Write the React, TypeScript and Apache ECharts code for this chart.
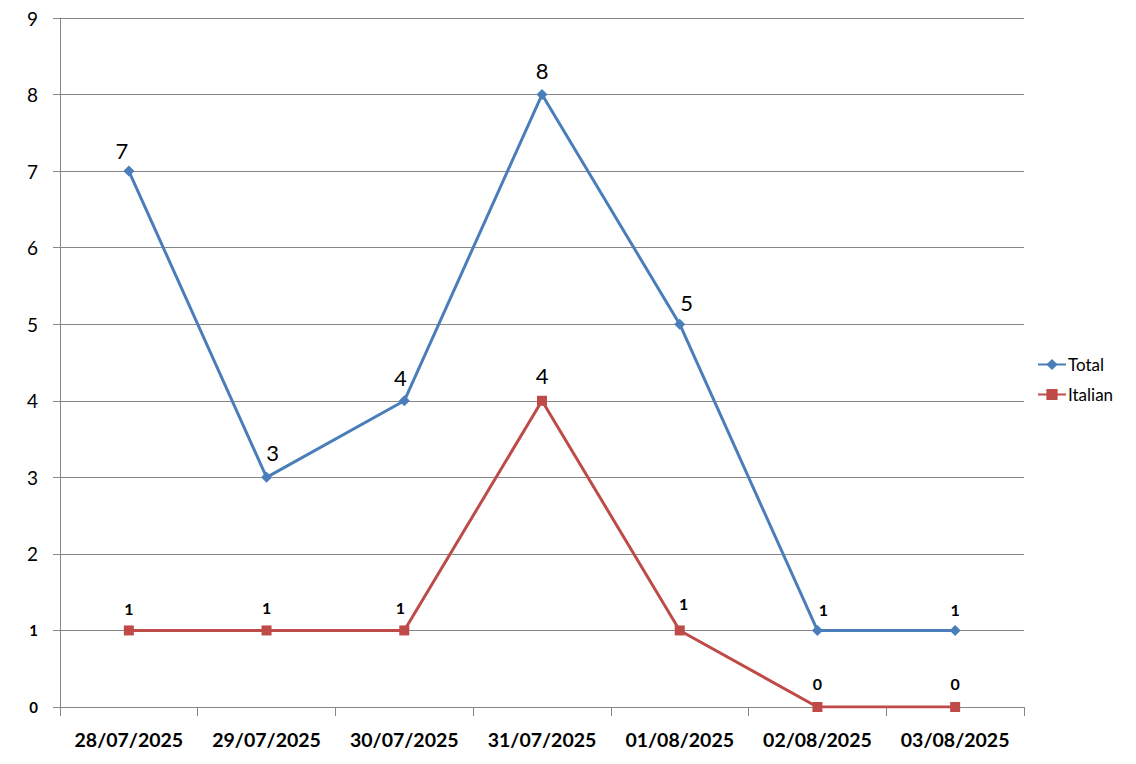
import React, { useEffect, useRef } from "react";
import * as echarts from "echarts";

const categories = ["28/07/2025", "29/07/2025", "30/07/2025", "31/07/2025", "01/08/2025", "02/08/2025", "03/08/2025"];
const totalValues = [7, 3, 4, 8, 5, 1, 1];
const italianValues = [1, 1, 1, 4, 1, 0, 0];
const yTicks = [0, 1, 2, 3, 4, 5, 6, 7, 8, 9];

// label nudges (styling only)
const totalLabelDx = [-7, 6, -4, 0, 7, 6, 0];
const italianLabelDx = [0, 0, -4, 0, 4, 0, 0];
const totalLabelDy = [-21, -25, -23, -24, -22, -21, -21];
const italianLabelDy = [-22, -23, -23, -25, -27, -24, -24];

const FONT = "Lato, 'Open Sans', sans-serif";

function labelRich(v: number) {
  return v <= 1 ? "{s|" + v + "}" : "{b|" + v + "}";
}

const richStyles = {
  s: { fontFamily: FONT, fontSize: 16, fontWeight: "bold", color: "#000" },
  b: { fontFamily: FONT, fontSize: 22, fontWeight: "normal", color: "#000" },
};

function buildData(values: number[], dx: number[], dy: number[]) {
  return values.map((v, i) => ({
    value: v,
    label: {
      show: true,
      position: "inside",
      offset: [dx[i], dy[i]],
      formatter: () => labelRich(v),
      rich: richStyles,
    },
  }));
}

export default function App() {
  const ref = useRef<HTMLDivElement>(null);
  useEffect(() => {
    if (!ref.current) return;
    const chart = echarts.init(ref.current, undefined, { renderer: "svg" });
    chart.setOption({
      animation: false,
      backgroundColor: "#ffffff",
      grid: { left: 60, right: 112, top: 18, bottom: 57, containLabel: false },
      legend: {
        orient: "vertical",
        left: 1032,
        top: 351,
        itemWidth: 28,
        itemHeight: 14,
        itemGap: 13,
        textStyle: { fontFamily: FONT, fontSize: 17, color: "#000", padding: [0, 0, 0, -3] },
        data: ["Total", "Italian"],
      },
      xAxis: {
        type: "category",
        data: categories,
        boundaryGap: true,
        axisLine: { show: true, lineStyle: { color: "#868686", width: 1 } },
        axisTick: { show: true, length: 9, alignWithLabel: false, lineStyle: { color: "#868686" } },
        axisLabel: {
          margin: 22,
          fontFamily: FONT,
          fontSize: 19.5,
          fontWeight: "bold",
          color: "#000",
          interval: 0,
        },
        splitLine: { show: false },
      },
      yAxis: {
        type: "value",
        min: yTicks[0],
        max: yTicks[yTicks.length - 1],
        interval: 1,
        axisLine: { show: true, lineStyle: { color: "#868686", width: 1 } },
        axisTick: { show: true, length: 7, lineStyle: { color: "#868686" } },
        axisLabel: {
          margin: 22,
          formatter: (v: number) => labelRich(v),
          rich: {
            s: { fontFamily: FONT, fontSize: 15, fontWeight: "bold", color: "#000" },
            b: { fontFamily: FONT, fontSize: 19, fontWeight: "normal", color: "#000" },
          },
        },
        splitLine: { show: true, lineStyle: { color: "#868686", width: 1 } },
      },
      series: [
        {
          name: "Total",
          type: "line",
          data: buildData(totalValues, totalLabelDx, totalLabelDy),
          symbol: "diamond",
          symbolSize: 11,
          color: "#4A7EBB",
          lineStyle: { color: "#4A7EBB", width: 3 },
          itemStyle: { color: "#4A7EBB" },
        },
        {
          name: "Italian",
          type: "line",
          data: buildData(italianValues, italianLabelDx, italianLabelDy),
          symbol: "rect",
          symbolSize: 10,
          color: "#BE4B48",
          lineStyle: { color: "#BE4B48", width: 3 },
          itemStyle: { color: "#BE4B48" },
        },
      ],
    });
    return () => chart.dispose();
  }, []);
  return (
    <div
      ref={ref}
      style={{ position: "fixed", left: 0, top: 0, width: 1136, height: 764, background: "#fff" }}
    />
  );
}
